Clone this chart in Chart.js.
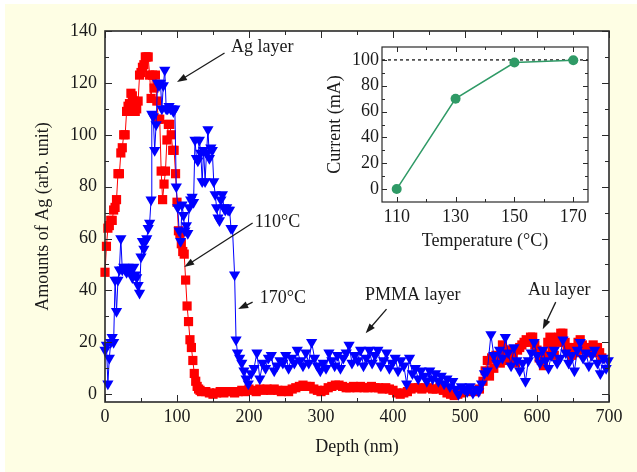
<!DOCTYPE html>
<html>
<head>
<meta charset="utf-8">
<script src="https://cdn.jsdelivr.net/npm/chart.js@4.4.1/dist/chart.umd.min.js"></script>
<style>
  body { margin: 0; background: #fff; }
  #wrap { position: relative; width: 637px; height: 472px; }
  #bg { position: absolute; left: 5px; top: 4px; right: 0; bottom: 0; background: #fefee4; }
  #main { position: absolute; left: 0; top: 0; }
  #inset { position: absolute; left: 310px; top: 30px; }
</style>
</head>
<body>
<div id="wrap">
  <div id="bg"></div>
  <canvas id="main" width="637" height="472" style="width:637px;height:472px"></canvas>
  <canvas id="inset" width="300" height="230" style="width:300px;height:230px"></canvas>
</div>
<script>
// depth profile, 110 C sample (red squares)
const redDepth = [
  0, 2, 4, 6, 8, 10, 12, 14, 16, 18, 20, 22, 24, 26, 28, 30, 32, 34, 36, 38,
  40, 42, 44, 46, 48, 50, 52, 54, 56, 58, 60, 62, 64, 66, 68, 70, 72, 74, 76, 78,
  80, 82, 84, 86, 88, 90, 92, 94, 96, 98, 100, 102, 104, 106, 108, 110, 112, 114, 116, 118,
  120, 122, 124, 126, 128, 130, 132, 134,
  140, 145, 150, 155, 160, 165, 170, 175, 180, 185, 190, 195, 200, 205, 210, 215, 220, 225,
  230, 235, 240, 245, 250, 255, 260, 265, 270, 275, 280, 285, 290, 295, 300, 305, 310, 315,
  320, 325, 330, 335, 340, 345, 350, 355, 360, 365, 370, 375, 380, 385, 390, 395, 400, 405,
  410, 415, 420, 425, 430, 435, 440, 445, 450, 455, 460, 465, 470, 475, 480, 485, 490, 495,
  500, 505, 510, 515, 520, 525, 528, 531, 534, 537, 540, 543, 546, 549, 552, 555, 558, 561,
  564, 567, 570, 573, 576, 579, 582, 585, 588, 591, 594, 597, 600, 603, 606, 609, 612, 615,
  618, 621, 624, 627, 630, 633, 636, 639, 642, 645, 648, 651, 654, 657, 660, 663, 666, 669,
  672, 675, 678, 681, 684, 687, 690
];
const redAmount = [
  47, 57, 64, 65, 67, 67, 71, 72, 75, 85, 85, 93, 95, 100, 100, 109, 111, 112, 116, 115,
  113, 109, 110, 113, 123, 124, 126, 127, 130, 130, 130, 123, 114, 123, 118, 123, 113, 106, 106, 86,
  75, 81, 86, 98, 104, 104, 100, 94, 94, 85, 74, 63, 62, 58, 55, 54, 44, 34, 28, 21,
  18, 13, 8, 5, 3, 2, 1.5, 1,
  1, 0.5, 0, 0.5, 1, 0.5, 1, 1, 0.5, 1, 1.5, 1, 2, 1.5, 1, 2, 1.5, 2,
  1.5, 2, 1.5, 1, 1.5, 1, 2, 2.5, 3, 3.5, 3, 3, 2, 1.5, 1, 1.5, 2.5, 3,
  3.5, 3.5, 3, 2.5, 2.5, 3, 2.5, 3, 2.5, 2.5, 3, 2.5, 2.5, 2, 2.5, 2, 1.5, 0.5,
  0, 0.5, 1, 2, 2.5, 2.5, 2, 2.5, 2.5, 2, 2, 2.5, 1.5, 0.5, 0, -0.5, 0, 0.5,
  1.5, 1, 1.5, 1, 2, 5, 9, 13, 7, 14, 10, 15, 13, 12, 19, 17, 16, 13,
  17, 15, 12, 17, 18, 19, 20, 21, 20, 22, 22, 19, 17, 14, 13, 11, 15, 20,
  22, 18, 15, 20, 22, 23.5, 23.5, 20, 18, 17, 15, 18, 16, 20, 21, 19, 17, 18,
  17, 16, 19, 18, 18, 16, 14
];

// depth profile, 170 C sample (blue triangles)
const blueDepth = [
  0, 2, 4, 6, 8, 10, 12, 14, 16, 18, 20, 22, 24, 26, 28, 30, 32, 34, 36, 38,
  40, 42, 44, 46, 48, 50, 52, 54, 56, 58, 60, 62, 64, 65, 67, 69, 71, 73, 75, 77,
  79, 81, 83, 85, 87, 89, 91, 93, 95, 97, 99, 101, 103, 105, 107, 109, 111, 113, 115, 117,
  119, 121, 123, 125, 127, 129, 131, 133, 135, 137, 139, 141, 143, 145, 147, 149, 151, 153, 155, 157,
  159, 161, 163, 165, 167, 169, 171, 173, 175, 177, 180, 182, 184, 187, 190, 193, 196, 199,
  203, 207, 211, 215, 219, 223, 227, 231, 235, 239, 243, 247, 251, 255, 259, 263, 267, 271,
  275, 279, 283, 287, 291, 295, 299, 303, 307, 311, 315, 319, 323, 327, 331, 335, 339, 343,
  347, 351, 355, 359, 363, 367, 371, 375, 379, 383, 387, 391, 395, 399, 403, 407, 411, 415,
  419, 423, 427, 431, 435, 439, 443, 447, 451, 455, 459, 463, 467, 471, 475, 479, 483, 487,
  491, 495, 499, 503, 507, 511, 515, 519, 523, 527, 531, 536, 540, 544, 548, 552, 556, 560,
  564, 568, 572, 576, 580, 584, 588, 592, 596, 600, 604, 608, 612, 616, 620, 624, 628, 632,
  636, 640, 644, 648, 652, 656, 660, 664, 668, 672, 676, 680, 684, 688, 692, 696, 699
];
const blueAmount = [
  17, 19, 4, 14, 20, 22, 20, 44, 32, 44, 48, 60, 48, 49, 48, 47, 49, 48, 48, 45,
  49, 46, 45, 42, 39, 53, 59, 56, 59, 60, 64, 66, 75, 108, 107, 94, 104, 120, 119, 120,
  110, 119, 125, 110, 110, 111, 110, 110, 109, 110, 80, 72, 63, 59, 73, 69, 63, 65, 62, 72,
  75, 76, 74, 98, 91, 90, 98, 93, 82, 94, 82, 93, 102, 91, 95, 94, 82, 77, 72, 68,
  67, 75, 77, 72, 71, 72, 71, 71, 64, 64, 46, 21, 16, 14, 12, 9, 6, 4,
  8, 10, 16, 6, 12, 10, 14, 15, 9, 11, 13, 12, 15, 10, 14, 12, 17, 13,
  11, 16, 12, 20, 14, 11, 9, 12, 10, 16, 13, 11, 15, 10, 14, 16, 19, 12,
  15, 13, 17, 11, 14, 17, 12, 15, 17, 11, 13, 16, 10, 12, 14, 9, 13, 11,
  4, 14, 8, 10, 6, 9, 7, 5, 9, 6, 8, 5, 7, 4, 6, 3, 5, 2,
  0, 3, 2, 1, 3, 0.5, 2, 1, 4, 8, 9, 23, 15, 12, 17, 14, 22, 16,
  11, 18, 13, 9, 12, 5, 13, 16, 20, 15, 12, 17, 13, 10, 15, 17, 12, 14,
  21, 16, 12, 15, 9, 17, 20, 14, 16, 11, 15, 17, 12, 8, 14, 10, 13
];

const xTickValues = [0, 100, 200, 300, 400, 500, 600, 700];
const yTickValues = [0, 20, 40, 60, 80, 100, 120, 140];

// inset: current vs annealing temperature
const temperature = [110, 130, 150, 170];
const current = [0, 70, 98, 99.7];
const currentLimit = 100;
const insetXTicks = [110, 130, 150, 170];
const insetYTicks = [0, 20, 40, 60, 80, 100];

const serif = "'Liberation Serif', 'Times New Roman', serif";
const textColor = '#1a1a1a';
const font18 = { family: serif, size: 18 };

// white plot area + frame with inward ticks on all four sides
const frameTicks = {
  id: 'frameTicks',
  beforeDatasetsDraw(chart) {
    const { ctx, chartArea: a } = chart;
    ctx.save();
    ctx.fillStyle = '#ffffff';
    ctx.fillRect(a.left, a.top, a.right - a.left, a.bottom - a.top);
    ctx.restore();
  },
  afterDatasetsDraw(chart, args, opts) {
    const { ctx, chartArea: a, scales } = chart;
    ctx.save();
    ctx.strokeStyle = opts.color;
    ctx.lineWidth = opts.width;
    ctx.strokeRect(a.left, a.top, a.right - a.left, a.bottom - a.top);
    ctx.lineWidth = 1;
    const withMinor = (scale) => {
      const vals = scale.ticks.map(t => t.value);
      const out = vals.map(v => ({ v, len: opts.major }));
      const step = vals[1] - vals[0];
      const mids = [vals[0] - step / 2, ...vals.map(v => v + step / 2)];
      mids.forEach(v => {
        if (v > scale.min && v < scale.max) out.push({ v, len: opts.minor });
      });
      return out;
    };
    ctx.beginPath();
    withMinor(scales.x).forEach(t => {
      const px = Math.round(scales.x.getPixelForValue(t.v)) + 0.5;
      ctx.moveTo(px, a.bottom); ctx.lineTo(px, a.bottom - t.len);
      ctx.moveTo(px, a.top); ctx.lineTo(px, a.top + t.len);
    });
    withMinor(scales.y).forEach(t => {
      const py = Math.round(scales.y.getPixelForValue(t.v)) + 0.5;
      ctx.moveTo(a.left, py); ctx.lineTo(a.left + t.len, py);
      ctx.moveTo(a.right, py); ctx.lineTo(a.right - t.len, py);
    });
    ctx.stroke();
    ctx.restore();
  }
};

// text labels with arrows, placed in data units
const notes = [
  { text: 'Ag layer', at: [175, 133.8], from: [166, 131.5], to: [100, 120.3] },
  { text: '110°C', at: [208, 66.3], from: [205, 66], to: [110, 49] },
  { text: '170°C', at: [215, 37], from: [205, 35.5], to: [185, 32.8] },
  { text: 'PMMA layer', at: [361, 38.2], from: [391, 32.8], to: [362, 23.5] },
  { text: 'Au layer', at: [587.5, 40], from: [626, 35.5], to: [608, 25] }
];

const arrowNotes = {
  id: 'arrowNotes',
  afterDraw(chart) {
    const { ctx, scales: { x, y } } = chart;
    ctx.save();
    ctx.font = `18px ${serif}`;
    ctx.fillStyle = textColor;
    ctx.strokeStyle = textColor;
    ctx.lineWidth = 1.3;
    ctx.textBaseline = 'middle';
    notes.forEach(n => {
      ctx.fillText(n.text, x.getPixelForValue(n.at[0]), y.getPixelForValue(n.at[1]));
      const x1 = x.getPixelForValue(n.from[0]), y1 = y.getPixelForValue(n.from[1]);
      const x2 = x.getPixelForValue(n.to[0]), y2 = y.getPixelForValue(n.to[1]);
      const ang = Math.atan2(y2 - y1, x2 - x1);
      const len = 10, half = 3.5;
      ctx.beginPath();
      ctx.moveTo(x1, y1);
      ctx.lineTo(x2 - Math.cos(ang) * len * 0.7, y2 - Math.sin(ang) * len * 0.7);
      ctx.stroke();
      ctx.beginPath();
      ctx.moveTo(x2, y2);
      ctx.lineTo(x2 - len * Math.cos(ang) + half * Math.sin(ang), y2 - len * Math.sin(ang) - half * Math.cos(ang));
      ctx.lineTo(x2 - len * Math.cos(ang) - half * Math.sin(ang), y2 - len * Math.sin(ang) + half * Math.cos(ang));
      ctx.closePath();
      ctx.fill();
    });
    ctx.restore();
  }
};

const toPoints = (xs, ys) => xs.map((v, i) => ({ x: v, y: ys[i] }));

new Chart(document.getElementById('main'), {
  type: 'scatter',
  data: {
    datasets: [
      {
        label: '170°C',
        data: toPoints(blueDepth, blueAmount),
        showLine: true,
        borderColor: '#0000ff',
        backgroundColor: '#0000ff',
        borderWidth: 1,
        pointStyle: 'triangle',
        rotation: 180,
        pointRadius: 6.5,
        pointBorderWidth: 0,
        order: 1,
        clip: false
      },
      {
        label: '110°C',
        data: toPoints(redDepth, redAmount),
        showLine: true,
        borderColor: '#ff0000',
        backgroundColor: '#ff0000',
        borderWidth: 1,
        pointStyle: 'rect',
        pointRadius: 6.5,
        pointBorderWidth: 0,
        order: 2,
        clip: false
      }
    ]
  },
  options: {
    responsive: false,
    animation: false,
    layout: { padding: { left: 0, top: 31, right: 28, bottom: 0 } },
    plugins: {
      legend: { display: false },
      tooltip: { enabled: false },
      frameTicks: { color: '#2a2a2a', width: 1.6, major: 7, minor: 4 }
    },
    scales: {
      x: {
        type: 'linear',
        min: 0,
        max: 700,
        afterBuildTicks: s => { s.ticks = xTickValues.map(v => ({ value: v })); },
        afterFit: s => { s.height = 70; },
        grid: { display: false, drawTicks: false },
        border: { display: false },
        ticks: { font: font18, color: textColor, padding: 4, maxRotation: 0 },
        title: { display: true, text: 'Depth (nm)', font: font18, color: textColor, padding: { top: 0, bottom: 14 } }
      },
      y: {
        type: 'linear',
        min: -3,
        max: 140,
        afterBuildTicks: s => { s.ticks = yTickValues.map(v => ({ value: v })); },
        afterFit: s => { s.width = 105; },
        grid: { display: false, drawTicks: false },
        border: { display: false },
        ticks: { font: font18, color: textColor, padding: 8 },
        title: { display: true, text: 'Amounts of Ag (arb. unit)', font: font18, color: textColor, padding: { top: 32, bottom: 0 } }
      }
    }
  },
  plugins: [frameTicks, arrowNotes]
});

new Chart(document.getElementById('inset'), {
  type: 'scatter',
  data: {
    datasets: [
      {
        label: 'Current',
        data: toPoints(temperature, current),
        showLine: true,
        borderColor: '#2f9a66',
        backgroundColor: '#2f9a66',
        borderWidth: 1.5,
        pointRadius: 5,
        pointBorderWidth: 0,
        order: 1
      },
      {
        label: 'limit',
        data: [{ x: 105, y: currentLimit }, { x: 175, y: currentLimit }],
        showLine: true,
        borderColor: '#000000',
        borderWidth: 1.2,
        borderDash: [3, 3],
        pointRadius: 0,
        order: 2
      }
    ]
  },
  options: {
    responsive: false,
    animation: false,
    layout: { padding: { left: 0, top: 17, right: 22, bottom: 0 } },
    plugins: {
      legend: { display: false },
      tooltip: { enabled: false },
      frameTicks: { color: '#2a2a2a', width: 1.2, major: 5, minor: 3 }
    },
    scales: {
      x: {
        type: 'linear',
        min: 105,
        max: 175,
        afterBuildTicks: s => { s.ticks = insetXTicks.map(v => ({ value: v })); },
        afterFit: s => { s.height = 58; },
        grid: { display: false, drawTicks: false },
        border: { display: false },
        ticks: { font: font18, color: textColor, padding: 4, maxRotation: 0 },
        title: { display: true, text: 'Temperature (°C)', font: font18, color: textColor, padding: { top: 0, bottom: 8 } }
      },
      y: {
        type: 'linear',
        min: -10,
        max: 110,
        afterBuildTicks: s => { s.ticks = insetYTicks.map(v => ({ value: v })); },
        afterFit: s => { s.width = 72; },
        grid: { display: false, drawTicks: false },
        border: { display: false },
        ticks: { font: font18, color: textColor, padding: 3 },
        title: { display: true, text: 'Current (mA)', font: font18, color: textColor, padding: { top: 14, bottom: 0 } }
      }
    }
  },
  plugins: [frameTicks]
});
</script>
</body>
</html>
